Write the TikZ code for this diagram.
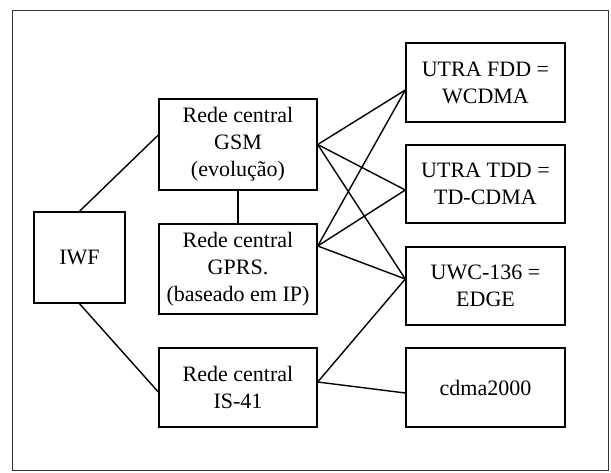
\documentclass[tikz,border=0pt]{standalone}
\usepackage{fontspec}
\setmainfont{Liberation Serif}
\begin{document}
\begin{tikzpicture}[x=1pt,y=-1pt,
  box/.style={draw,line width=1.4pt,inner sep=0pt,align=center,font=\fontsize{22}{27}\selectfont},
  link/.style={line width=1.4pt}]
\useasboundingbox (0,0) rectangle (611,472);
\node[draw=black!80,line width=1pt,minimum width=596pt,minimum height=460pt,inner sep=0pt] (frame) at (310,240.5) {};
\node[box,minimum width=91pt,minimum height=91pt] (iwf) at (79.5,257.5) {IWF};
\node[box,minimum width=158pt,minimum height=91pt] (gsm) at (238,144.5) {Rede central\\GSM\\(evolução)};
\node[box,minimum width=158pt,minimum height=90pt] (gprs) at (238,269) {Rede central\\GPRS.\\(baseado em IP)};
\node[box,minimum width=158pt,minimum height=79pt] (is41) at (238,387.5) {Rede central\\IS-41};
\node[box,minimum width=159pt,minimum height=79pt] (fdd) at (485.5,82.5) {UTRA FDD =\\WCDMA};
\node[box,minimum width=159pt,minimum height=78pt] (tdd) at (485.5,184) {UTRA TDD =\\TD-CDMA};
\node[box,minimum width=159pt,minimum height=78pt] (uwc) at (485.5,286) {UWC-136 =\\EDGE};
\node[box,minimum width=159pt,minimum height=79pt] (cdma) at (485.5,387.5) {cdma2000};
\draw[link] (iwf.north) -- ([yshift=9.5pt]gsm.west);
\draw[link] (iwf.south) -- ([yshift=-4.5pt]is41.west);
\draw[link] (gsm.south) -- (gprs.north);
\draw[link] (gsm.east) -- ([yshift=-7.5pt]fdd.west);
\draw[link] (gsm.east) -- ([yshift=-6pt]tdd.west);
\draw[link] (gsm.east) -- ([yshift=7pt]uwc.west);
\draw[link] ([yshift=23pt]gprs.east) -- ([yshift=-7.5pt]fdd.west);
\draw[link] ([yshift=23pt]gprs.east) -- ([yshift=-6pt]tdd.west);
\draw[link] ([yshift=23pt]gprs.east) -- ([yshift=7pt]uwc.west);
\draw[link] ([yshift=5.5pt]is41.east) -- ([yshift=7pt]uwc.west);
\draw[link] ([yshift=5.5pt]is41.east) -- ([yshift=-5.5pt]cdma.west);
\end{tikzpicture}
\end{document}
